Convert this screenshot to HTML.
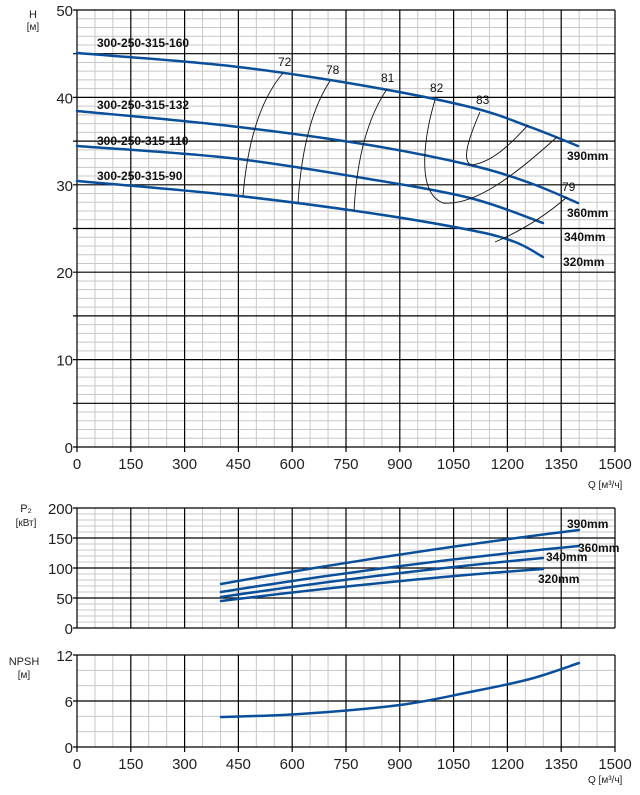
<!DOCTYPE html>
<html><head><meta charset="utf-8"><style>
html,body{margin:0;padding:0;background:#fff;}
svg{display:block;font-family:"Liberation Sans",sans-serif;}
.t{font-size:15px;fill:#222;}
.b{font-size:12px;font-weight:bold;fill:#111;}
.s{font-size:10px;fill:#222;}
.e{font-size:12px;fill:#111;}
.c{fill:none;stroke:#0a4f9c;stroke-width:2.5;stroke-linecap:round;stroke-linejoin:round;}
.k{fill:none;stroke:#111;stroke-width:0.9;}
</style></head><body>
<svg id="g" width="640" height="795" viewBox="0 0 640 795" xmlns="http://www.w3.org/2000/svg">
<g id="grid"></g>
<g id="curves"></g>
<!-- efficiency -->
<path class="k" d="M283,73 Q250,112 243,196"/>
<path class="k" d="M330,81 Q303,122 298,203"/>
<path class="k" d="M387,89 Q358,132 354,211"/>
<path class="k" d="M435,100 C426,130 414,192 443,203 C475,206 515,175 557,137"/>
<path class="k" d="M480,112 C470,135 460,162 472,165 C492,162 510,145 528,125"/>
<path class="k" d="M495,242 Q535,225 567,197"/>
<text class="e" x="278" y="66">72</text>
<text class="e" x="326" y="74">78</text>
<text class="e" x="381" y="82">81</text>
<text class="e" x="430" y="92">82</text>
<text class="e" x="476" y="104">83</text>
<text class="e" x="562" y="191">79</text>
<text class="b" x="97" y="47">300-250-315-160</text>
<text class="b" x="97" y="109">300-250-315-132</text>
<text class="b" x="97" y="145">300-250-315-110</text>
<text class="b" x="97" y="180">300-250-315-90</text>
<text class="b" x="567" y="160">390mm</text>
<text class="b" x="567" y="217">360mm</text>
<text class="b" x="564" y="241">340mm</text>
<text class="b" x="563" y="266">320mm</text>
<!-- power -->
<path class="c" d="M221,584 Q400,552 579,530"/>
<path class="c" d="M221,592 Q400,563 579,546"/>
<path class="c" d="M221,597 Q390,572 543,558"/>
<path class="c" d="M221,601 Q390,580 543,569"/>
<text class="b" x="567" y="528">390mm</text>
<text class="b" x="578" y="552">360mm</text>
<text class="b" x="546" y="561">340mm</text>
<text class="b" x="538" y="583">320mm</text>
<!-- labels -->
<text class="s" x="33" y="18" text-anchor="middle" style="font-size:11px">H</text>
<text class="s" x="33" y="30" text-anchor="middle">[м]</text>
<text class="s" x="26" y="512" text-anchor="middle" style="font-size:11px">P₂</text>
<text class="s" x="26" y="526" text-anchor="middle">[кВт]</text>
<text class="s" x="24" y="665" text-anchor="middle" style="font-size:11px">NPSH</text>
<text class="s" x="24" y="678" text-anchor="middle">[м]</text>
<text class="s" x="588" y="488">Q [м³/ч]</text>
<text class="s" x="588" y="783">Q [м³/ч]</text>
</svg>
<script>
var NS="http://www.w3.org/2000/svg",G=document.getElementById("grid"),C=document.getElementById("curves");
function L(x1,y1,x2,y2,c,w){var l=document.createElementNS(NS,"line");l.setAttribute("x1",x1);l.setAttribute("y1",y1);l.setAttribute("x2",x2);l.setAttribute("y2",y2);l.setAttribute("stroke",c);l.setAttribute("stroke-width",w);G.appendChild(l);}
function T(x,y,s,a){var t=document.createElementNS(NS,"text");t.setAttribute("x",x);t.setAttribute("y",y);t.setAttribute("class","t");t.setAttribute("text-anchor",a);t.textContent=s;G.appendChild(t);}
var X0=77,X1=615;function X(q){return X0+q*(X1-X0)/1500;}
function panel(top,bot,max,minor,major,labels,xlabels){
 var n=Math.round(max/minor);
 for(var i=0;i<=n;i++){var v=i*minor,y=bot-(bot-top)*v/max;if(Math.abs(v/major-Math.round(v/major))>1e-6)L(X0,y,X1,y,"#c8c8c8",1);}
 for(var q=0;q<=1500;q+=50){if(q%150)L(X(q),top,X(q),bot,"#c8c8c8",1);}
 for(var i=0;i<=Math.round(max/major);i++){var v=i*major,y=bot-(bot-top)*v/max;L(X0-4,y,X1,y,"#000",1.2);}
 for(var q=0;q<=1500;q+=150){L(X(q),top,X(q),bot+(xlabels?5:0),"#000",1.2);}
 labels.forEach(function(v){var y=bot-(bot-top)*v/max;T(73,y+6,String(v),"end");});
 if(xlabels)for(var q=0;q<=1500;q+=150)T(X(q),bot+22,String(q),"middle");
}
panel(10,447,50,1,5,[0,10,20,30,40,50],true);
panel(508,628,200,10,50,[0,50,100,150,200],false);
panel(655,747,12,2,6,[0,6,12],true);
function smooth(p){var d="M"+p[0][0]+","+p[0][1];for(var i=0;i<p.length-1;i++){var a=p[i-1]||p[i],b=p[i],c=p[i+1],e=p[i+2]||c;
 d+=" C"+(b[0]+(c[0]-a[0])/6)+","+(b[1]+(c[1]-a[1])/6)+" "+(c[0]-(e[0]-b[0])/6)+","+(c[1]-(e[1]-b[1])/6)+" "+c[0]+","+c[1];}
 var el=document.createElementNS(NS,"path");el.setAttribute("d",d);el.setAttribute("class","c");C.appendChild(el);}
smooth([[77,53],[230,66],[360,85],[470,107],[530,127],[578,146]]);
smooth([[77,111],[230,126],[363,144],[470,165],[530,183],[578,203]]);
smooth([[77,146],[230,158],[363,178],[470,198],[543,223]]);
smooth([[77,181],[230,195],[363,212],[470,230],[515,242],[543,257]]);
smooth([[221,717],[300,714],[400,705],[470,692],[530,679],[579,663]]);
</script>
</body></html>
